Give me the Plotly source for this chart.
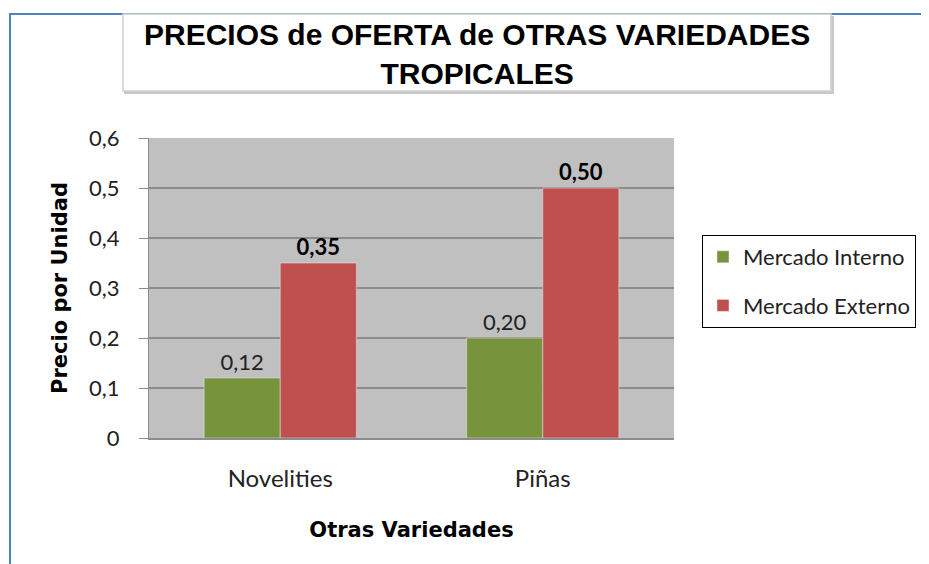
import plotly.graph_objects as go

categories = ["Novelities", "Piñas"]
series_names = ["Mercado Interno", "Mercado Externo"]
interno = [0.12, 0.20]
externo = [0.35, 0.50]
y_ticks = [0, 0.1, 0.2, 0.3, 0.4, 0.5, 0.6]
y_ticklabels = ["0", "0,1", "0,2", "0,3", "0,4", "0,5", "0,6"]

W, H = 929, 564
OFF = 8  # page offset of the figure inside the browser window
# plot area in page pixels
L, R, T, B = 149, 674, 138, 438
PW, PH = R - L, B - T

def px(x):
    return (x - L) / PW

def py(y):
    return 1 - (y - T) / PH

SANS = "Lato, Carlito, Calibri, sans-serif"
BOLDF = "DejaVu Sans, Verdana, sans-serif"

fig = go.Figure()
fig.add_trace(go.Bar(
    x=categories, y=interno, name=series_names[0], marker_color="#77933C",
    texttemplate="%{y:.2f}", textposition="outside",
    textfont=dict(family=SANS, size=22, color="#222"),
    legendgroup="a", cliponaxis=False,
))
fig.add_trace(go.Bar(
    x=categories, y=externo, name=series_names[1], marker_color="#C0504D",
    texttemplate="<b>%{y:.2f}</b>", textposition="outside",
    textfont=dict(family=SANS, size=22, color="#000"),
    legendgroup="b", cliponaxis=False,
))

shapes = [
    dict(type="rect", xref="paper", yref="paper", x0=px(10), x1=px(980), y0=py(620), y1=py(14),
         line=dict(color="#4F81BD", width=2), fillcolor="rgba(0,0,0,0)", layer="below"),
    dict(type="rect", xref="paper", yref="paper", x0=px(125), x1=px(833), y0=py(93), y1=py(17),
         line=dict(color="#C8C8C8", width=2), fillcolor="#C8C8C8", layer="below"),
    dict(type="rect", xref="paper", yref="paper", x0=px(123), x1=px(831), y0=py(91), y1=py(14),
         line=dict(color="#D0D0D0", width=1.5), fillcolor="white", layer="below"),
]

fig.update_layout(
    width=W, height=H,
    margin=dict(l=L - OFF, r=W - (R - OFF), t=T - OFF, b=H - (B - OFF), pad=0),
    paper_bgcolor="white", plot_bgcolor="#C0C0C0",
    separators=",.",
    barmode="group", bargap=0.42, bargroupgap=0,
    shapes=shapes,
    showlegend=True,
    legend=dict(
        x=px(702), y=py(235), xanchor="left", yanchor="top",
        bordercolor="#000", borderwidth=1, bgcolor="white",
        font=dict(family=SANS, size=22, color="#222"),
        traceorder="grouped", tracegroupgap=17, itemwidth=30,
    ),
    annotations=[
        dict(text="<b>PRECIOS de OFERTA de OTRAS VARIEDADES<br>TROPICALES</b>",
             xref="paper", yref="paper", x=px(477), y=py(54), xanchor="center", yanchor="middle",
             showarrow=False, align="center",
             font=dict(family="Liberation Sans, Arial, sans-serif", size=30, color="#000")),
    ],
    xaxis=dict(
        showgrid=False, showline=True, linecolor="#8C8C8C", linewidth=2,
        ticks="", ticklabelstandoff=18,
        tickfont=dict(family=SANS, size=24, color="#222"),
        title=dict(text="<b>Otras Variedades</b>", standoff=32,
                   font=dict(family=BOLDF, size=21, color="#000")),
        automargin=False,
    ),
    yaxis=dict(
        range=[0, 0.6], tickvals=y_ticks, ticktext=y_ticklabels,
        showgrid=True, gridcolor="#8C8C8C", gridwidth=1.5,
        showline=True, linecolor="#8C8C8C", linewidth=1,
        ticks="outside", ticklen=9, tickcolor="#8C8C8C", ticklabelstandoff=15,
        tickfont=dict(family=SANS, size=22, color="#222"),
        title=dict(text="<b>Precio por Unidad</b>", standoff=15,
                   font=dict(family=BOLDF, size=21, color="#000")),
        zeroline=False, automargin=False,
    ),
)

fig.write_html("out.html")
